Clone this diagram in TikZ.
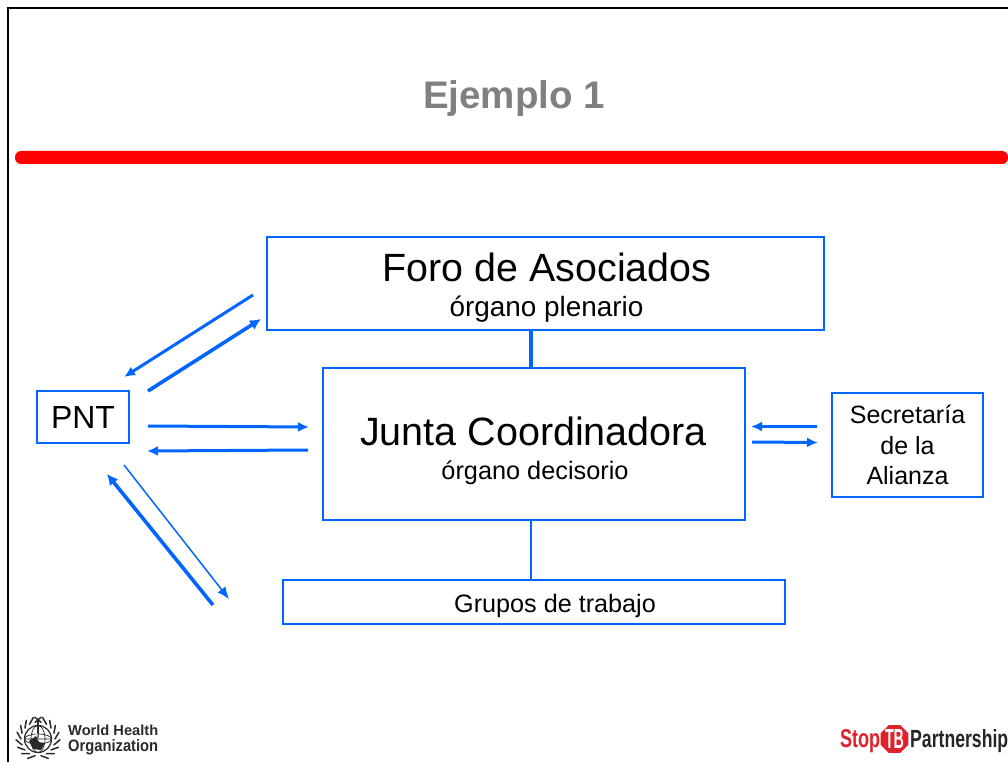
\documentclass[tikz,border=0pt]{standalone}
\usepackage{fontspec}
\setmainfont{Liberation Sans}
\usetikzlibrary{arrows.meta,shapes.geometric,calc}
\definecolor{boxblue}{HTML}{0066FF}
\definecolor{titlegray}{HTML}{808080}
\definecolor{barred}{HTML}{FF0000}
\definecolor{stopred}{HTML}{E0202A}
\definecolor{logoink}{HTML}{2A2A2A}
\newcommand{\fs}[2]{\fontsize{#1pt}{#2pt}\selectfont}
\tikzset{
  bx/.style={draw=boxblue,line width=2pt,inner sep=0pt,outer sep=0pt,anchor=north west,align=center},
  link/.style={draw=boxblue,line width=3pt,-{Latex[length=11pt,width=10pt]}},
  linkthick/.style={draw=boxblue,line width=3.6pt,-{Latex[length=11pt,width=11pt]}},
  linkthin/.style={draw=boxblue,line width=1.5pt,-{Latex[length=12pt,width=10pt]}},
  plainlink/.style={draw=boxblue},
  leaf/.style={draw=logoink,line width=1.5pt,line cap=round},
}
\begin{document}
\begin{tikzpicture}[x=1pt,y=-1pt]
\useasboundingbox (0,0) rectangle (1008,762);
\fill[white] (0,0) rectangle (1008,762);
% slide frame
\draw[black,line width=2pt] (8,762) -- (8,8) -- (1008,8);
% title and bar
\node[text=titlegray,font=\fs{38.5}{44}\bfseries] (title) at (514,99) {Ejemplo 1};
\fill[barred,rounded corners=6pt] (15,151) rectangle (1008,164);
% boxes
\node[bx,minimum width=557pt,minimum height=93pt] (foro) at (267,237) {};
\node[font=\fs{39.4}{44}] (forot) at (547,267) {Foro de Asociados};
\node[font=\fs{27.9}{32}] (foros) at (546.5,309.5) {órgano plenario};
\node[bx,minimum width=422pt,minimum height=152pt] (junta) at (323,368) {};
\node[font=\fs{39.5}{44}] (juntat) at (533.5,431) {Junta Coordinadora};
\node[font=\fs{25.3}{30}] (juntas) at (535,473) {órgano decisorio};
\node[bx,minimum width=92pt,minimum height=52pt,font=\fs{32}{36}] (pnt) at (37,391) {PNT};
\node[bx,minimum width=151pt,minimum height=104pt,font=\fs{25}{30.5}] (sec) at (832,393) {Secretaría\\de la\\Alianza};
\node[bx,minimum width=502pt,minimum height=44pt] (grupos) at (283,580) {};
\node[font=\fs{25.2}{28}] (grupost) at (555,606) {Grupos de trabajo};
% vertical connectors
\draw[plainlink,line width=3.5pt] ([xshift=-3pt]junta.north) -- ([xshift=-3pt]junta.north |- foro.south);
\draw[plainlink,line width=1.6pt] ([xshift=-3pt]junta.south) -- ([xshift=-3pt]grupos.north);
% free ends
\coordinate (a1s) at (253,295); \coordinate (a1e) at (124,377);
\coordinate (a2s) at (148,391); \coordinate (a2e) at (261,319);
\coordinate (a3s) at (148,426); \coordinate (a3e) at (309,427);
\coordinate (a4s) at (308,450); \coordinate (a4e) at (147,451);
\coordinate (a5s) at (213,605); \coordinate (a5e) at (107,474);
\coordinate (a6s) at (124,465); \coordinate (a6e) at (229,599);
\coordinate (a7s) at (817,426.5); \coordinate (a7e) at (751,426.5);
\coordinate (a8s) at (752,442); \coordinate (a8e) at (818,442.5);
\draw[link] (a1s) -- (a1e);
\draw[linkthick] (a2s) -- (a2e);
\draw[link] (a3s) -- (a3e);
\draw[link] (a4s) -- (a4e);
\draw[linkthick] (a5s) -- (a5e);
\draw[linkthin] (a6s) -- (a6e);
\draw[link] (a7s) -- (a7e);
\draw[link] (a8s) -- (a8e);
% WHO logo
\begin{scope}[shift={(38,739)}]
  \draw[logoink,line width=1.2pt] (0,0) circle (13.5);
  \draw[logoink,line width=.7pt] (0,0) ellipse (7 and 13.5) (0,0) ellipse (13.5 and 5) (-13.5,0) -- (13.5,0);
  \fill[logoink] (-9,2) -- (-2,-3) -- (1,3) -- (7,4) -- (3,11) -- (-5,10) -- cycle;
  \draw[logoink,line width=1.8pt] (0,-20) -- (0,10);
  \draw[white,line width=.8pt] (-3,-6) .. controls (4,-4) and (-4,0) .. (3,3);
  \foreach \a in {100,120,...,260}{
    \draw[leaf] (\a:17) -- (\a+18:22);
  }
  \foreach \a in {-80,-60,...,80}{
    \draw[leaf] (\a:17) -- (\a-18:22);
  }
\end{scope}
\node[text=logoink,font=\bfseries,anchor=west,inner sep=0pt] (who1) at (68,730.5) {\resizebox{90pt}{10.5pt}{World Health}};
\node[text=logoink,font=\bfseries,anchor=west,inner sep=0pt] (who2) at (68,747) {\resizebox{90pt}{12pt}{Organization}};
% Stop TB logo
\node[text=stopred,font=\bfseries,anchor=west,inner sep=0pt] (stop) at (840,741) {\resizebox{40pt}{18pt}{Stop}};
\node[regular polygon,regular polygon sides=8,fill=stopred,inner sep=0pt,minimum size=30pt] (oct) at (894.5,739) {};
\node[text=white,font=\bfseries,inner sep=0pt] (tb) at (oct.center) {\resizebox{19pt}{19pt}{TB}};
\node[text=black!85,font=\bfseries,anchor=west,inner sep=0pt] (part) at (910,741) {\resizebox{98pt}{18pt}{Partnership}};
\end{tikzpicture}
\end{document}
